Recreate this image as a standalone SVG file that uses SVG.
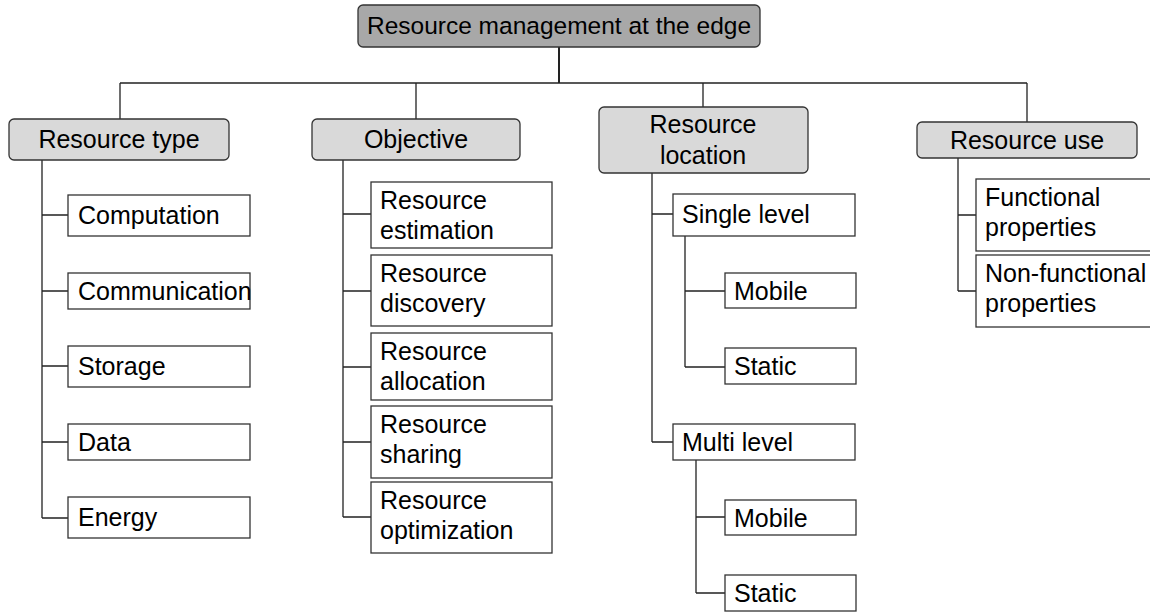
<svg xmlns="http://www.w3.org/2000/svg" width="1150" height="612" viewBox="0 0 1150 612">
<style>
text{font-family:"Liberation Sans",Arial,sans-serif;font-size:25px;fill:#000}
.root{fill:#a8a8a8;stroke:#333;stroke-width:1.3}
.cat{fill:#d9d9d9;stroke:#333;stroke-width:1.3}
.leaf{fill:#fff;stroke:#333;stroke-width:1.3}
.c{text-anchor:middle}
.ln{fill:none;stroke:#222;stroke-width:1.3}
</style>
<rect width="1150" height="612" fill="#fff"/>
<g id="connectors">
<path class="ln" d="M559 47V83" style="stroke-width:2"/>
<path class="ln" d="M120 83H1027M120 83V119M416 83V119M703 83V107M1027 83V122"/>
<path class="ln" d="M42 160V518M42 215H68M42 291H68M42 366H68M42 442H68M42 518H68"/>
<path class="ln" d="M343 160V517M343 214H371M343 291H371M343 367H371M343 442H371M343 517H371"/>
<path class="ln" d="M652 173V442M652 214H673M652 442H673"/>
<path class="ln" d="M685 236V367M685 291H725M685 367H725"/>
<path class="ln" d="M696 460V593M696 517H725M696 593H725"/>
<path class="ln" d="M958 158V291M958 215H976M958 291H976"/>
</g>
<g id="root"><rect class="root" x="358" y="5" width="402" height="42" rx="5"/><text class="c" x="559" y="34" style="font-size:24.5px">Resource management at the edge</text></g>
<g id="resource-type"><rect class="cat" x="9" y="119" width="220" height="41" rx="5"/><text class="c" x="119" y="148">Resource type</text></g>
<g id="objective"><rect class="cat" x="312" y="119" width="208" height="41" rx="5"/><text class="c" x="416" y="148">Objective</text></g>
<g id="resource-location"><rect class="cat" x="599" y="107" width="209" height="66" rx="5"/><text class="c" x="703" y="133">Resource</text><text class="c" x="703" y="164">location</text></g>
<g id="resource-use"><rect class="cat" x="917" y="122" width="220" height="36" rx="5"/><text class="c" x="1027" y="149">Resource use</text></g>
<g id="computation"><rect class="leaf" x="68" y="195" width="182" height="41"/><text x="78" y="224">Computation</text></g>
<g id="communication"><rect class="leaf" x="68" y="273" width="182" height="36"/><text x="78" y="300">Communication</text></g>
<g id="storage"><rect class="leaf" x="68" y="346" width="182" height="41"/><text x="78" y="375">Storage</text></g>
<g id="data"><rect class="leaf" x="68" y="424" width="182" height="36"/><text x="78" y="451">Data</text></g>
<g id="energy"><rect class="leaf" x="68" y="497" width="182" height="41"/><text x="78" y="526">Energy</text></g>
<g id="estimation"><rect class="leaf" x="371" y="182" width="181" height="66"/><text x="380" y="209">Resource</text><text x="380" y="239">estimation</text></g>
<g id="discovery"><rect class="leaf" x="371" y="255" width="181" height="71"/><text x="380" y="282">Resource</text><text x="380" y="312">discovery</text></g>
<g id="allocation"><rect class="leaf" x="371" y="333" width="181" height="67"/><text x="380" y="360">Resource</text><text x="380" y="390">allocation</text></g>
<g id="sharing"><rect class="leaf" x="371" y="406" width="181" height="72"/><text x="380" y="433">Resource</text><text x="380" y="463">sharing</text></g>
<g id="optimization"><rect class="leaf" x="371" y="482" width="181" height="71"/><text x="380" y="509">Resource</text><text x="380" y="539">optimization</text></g>
<g id="single-level"><rect class="leaf" x="673" y="194" width="182" height="42"/><text x="682" y="223">Single level</text></g>
<g id="mobile-1"><rect class="leaf" x="725" y="273" width="131" height="35"/><text x="734" y="300">Mobile</text></g>
<g id="static-1"><rect class="leaf" x="725" y="348" width="131" height="36"/><text x="734" y="375">Static</text></g>
<g id="multi-level"><rect class="leaf" x="673" y="424" width="182" height="36"/><text x="682" y="451">Multi level</text></g>
<g id="mobile-2"><rect class="leaf" x="725" y="500" width="131" height="35"/><text x="734" y="527">Mobile</text></g>
<g id="static-2"><rect class="leaf" x="725" y="575" width="131" height="36"/><text x="734" y="602">Static</text></g>
<g id="functional"><rect class="leaf" x="976" y="179" width="180" height="72"/><text x="985" y="206">Functional</text><text x="985" y="236">properties</text></g>
<g id="non-functional"><rect class="leaf" x="976" y="255" width="180" height="72"/><text x="985" y="282">Non-functional</text><text x="985" y="312">properties</text></g>
</svg>
